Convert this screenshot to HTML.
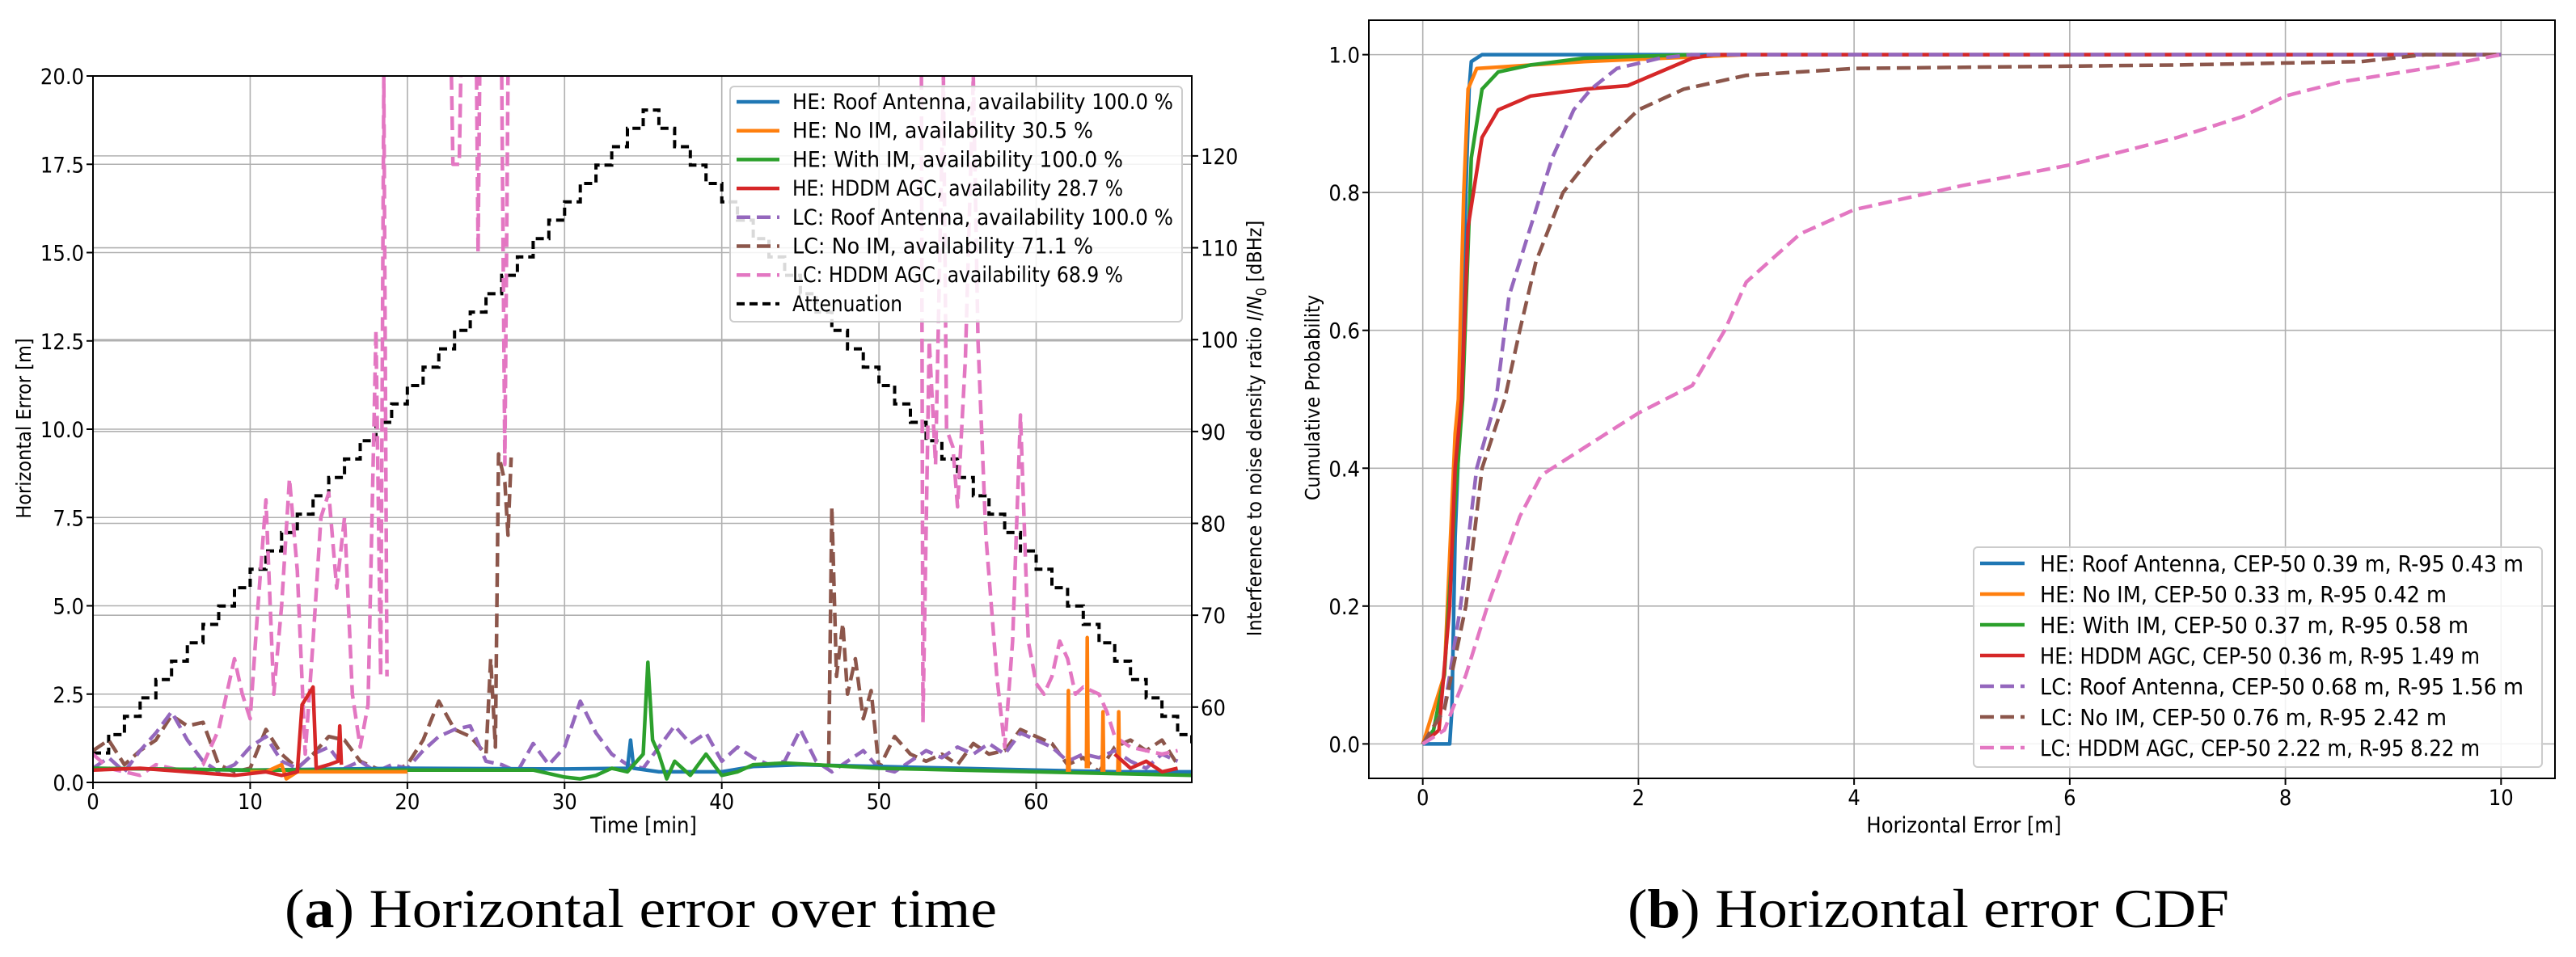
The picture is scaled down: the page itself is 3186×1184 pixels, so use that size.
<!DOCTYPE html>
<html><head><meta charset="utf-8"><style>
html,body{margin:0;padding:0;background:#fff}
svg{display:block}
text{font-family:"DejaVu Sans Condensed","Liberation Sans",sans-serif}
</style></head><body>
<svg id="fig" width="3186" height="1184" viewBox="0 0 3186 1184" xmlns="http://www.w3.org/2000/svg">
<g id="plotA"></g>
<g id="plotB"></g>
<text x="352" y="1147" textLength="881" lengthAdjust="spacingAndGlyphs" style="font-family:'Liberation Serif',serif;font-size:68px">(<tspan font-weight="bold">a</tspan>) Horizontal error over time</text>
<text x="2013" y="1147" textLength="744" lengthAdjust="spacingAndGlyphs" style="font-family:'Liberation Serif',serif;font-size:68px">(<tspan font-weight="bold">b</tspan>) Horizontal error CDF</text>
</svg>
<script>
// ---------- Chart A data ----------
const heRoofT=[0,10,20,30,34,34.2,34.4,36,40,42,45,50,55,60,65,69.9];
const heRoofV=[0.4,0.35,0.4,0.38,0.4,1.2,0.4,0.3,0.3,0.45,0.5,0.45,0.4,0.35,0.3,0.3];
const heNoImT=[10,11,12,12.3,13,15,20,null,62,62.05,62.1,null,63.2,63.25,63.3,null,64.2,64.25,64.3,null,65.2,65.25,65.3];
const heNoImV=[0.3,0.3,0.5,0.1,0.3,0.3,0.3,null,0.3,2.6,0.3,null,0.4,4.1,0.4,null,0.3,2.0,0.3,null,0.3,2.0,0.3];
const heWithT=[0,10,20,28,30,31,32,33,34,35,35.3,35.6,36,36.5,37,38,39,40,41,42,44,46,50,55,60,65,69.9];
const heWithV=[0.4,0.35,0.35,0.35,0.15,0.1,0.2,0.4,0.3,0.8,3.4,1.2,0.8,0.1,0.6,0.2,0.8,0.2,0.3,0.5,0.55,0.5,0.4,0.35,0.3,0.25,0.2];
const heAgcT=[0,3,6,9,11,12,13,13.3,14,14.2,15,15.6,15.7,15.8,null,65,66,67,68,69];
const heAgcV=[0.35,0.4,0.3,0.2,0.3,0.2,0.3,2.2,2.7,0.4,0.5,0.6,1.6,0.5,null,0.8,0.4,0.6,0.3,0.4];
const lcRoofT=[0,1,2,3,4,5,6,7,8,9,10,11,12,13,14,15,16,17,18,19,20,21,22,23,24,25,26,27,28,29,30,31,32,33,34,35,36,37,38,39,40,41,42,43,44,45,46,47,48,49,50,51,52,53,54,55,56,57,58,59,60,61,62,63,64,65,66,67,68,69];
const lcRoofV=[0.4,0.7,0.3,0.9,1.4,2.0,1.2,0.6,0.3,0.5,1.0,1.3,0.6,0.4,0.8,1.0,0.4,0.6,0.3,0.5,0.4,0.9,1.3,1.5,1.6,0.6,0.5,0.3,1.1,0.5,1.0,2.3,1.4,0.8,0.5,0.4,1.0,1.6,1.1,1.4,0.6,1.0,0.7,0.5,0.6,1.5,0.6,0.3,0.6,0.9,0.4,0.3,0.6,0.9,0.7,1.0,0.8,1.1,0.8,1.4,1.2,1.0,0.6,0.8,0.7,0.9,0.6,0.4,0.8,0.6];
const lcNoImT=[0,1,2,3,4,5,6,7,8,9,10,11,12,13,14,15,16,17,18,19,20,21,22,23,24,25,25.3,25.6,25.8,26.2,26.4,26.6,null,46.8,47,47.3,47.7,48,48.5,49,49.5,50,51,52,53,54,55,56,57,58,59,60,61,62,63,64,65,66,67,68,69];
const lcNoImV=[0.9,1.2,0.5,0.9,1.2,1.9,1.6,1.7,0.5,0.3,0.4,1.5,0.8,0.4,0.8,1.3,1.2,0.6,0.4,0.3,0.5,1.2,2.3,1.5,1.3,0.8,3.5,1.0,9.3,8.5,7.0,9.2,null,0.5,7.8,3.0,4.5,2.5,3.5,1.8,2.6,0.4,1.3,0.8,0.6,0.8,0.5,1.1,0.8,0.9,1.5,1.3,1.1,0.5,0.7,0.3,1.0,1.2,0.9,1.2,0.5];
const lcAgcT=[0,1,2,3,4,5,6,7,8,9,9.5,10,10.5,11,11.5,12,12.5,13,13.5,14,14.5,15,15.5,16,16.5,17,17.5,18,18.3,18.5,18.7,null,22.8,22.9,23.3,23.4,null,24.4,24.5,24.6,null,26,26.2,26.4,null,52.7,52.8,53.2,53.6,54.1,54.3,54.7,55,55.5,56,56.3,56.8,57.5,58,58.5,59,59.5,60,60.5,61,61.5,62,62.5,63,63.5,64,64.5,65,66,67,68,69];
const lcAgcV=[0.8,0.4,0.3,0.2,0.5,0.4,0.3,0.5,1.5,3.5,2.5,1.8,5,8,2.5,5,8.6,6,0.8,4,7.5,8.2,5.5,7.5,2.5,1.0,2.2,12.8,3,20,3,null,20,17.5,17.5,20,null,20,15,20,null,20,9,20,null,20,1.7,12.5,9,20,10,9.5,7.8,12,20,12.5,7,3,1,4,10.4,4,2.8,2.5,3,4,3.5,2.5,2.7,2.6,2.5,2.0,1.3,1.0,0.9,0.8,0.9];
const attenT=[0,1,2,3,4,5,6,7,8,9,10,11,12,13,14,15,16,17,18,19,20,21,22,23,24,25,26,27,28,29,30,31,32,33,34,35,36,37,38,39,40,41,42,43,44,45,46,47,48,49,50,51,52,53,54,55,56,57,58,59,60,61,62,63,64,65,66,67,68,69,69.9];
const attenV=[55,57,59,61,63,65,67,69,71,73,75,77,79,81,83,85,87,89,91,93,95,97,99,101,103,105,107,109,111,113,115,117,119,121,123,125,123,121,119,117,115,113,111,109,107,105,103,101,99,97,95,93,91,89,87,85,83,81,79,77,75,73,71,69,67,65,63,61,59,57,56];
const xTicksA=[0,10,20,30,40,50,60];
const yTicksA=[0,2.5,5,7.5,10,12.5,15,17.5,20];
const yTicksA2=[60,70,80,90,100,110,120];
const legendA=["HE: Roof Antenna, availability 100.0 %","HE: No IM, availability 30.5 %","HE: With IM, availability 100.0 %","HE: HDDM AGC, availability 28.7 %","LC: Roof Antenna, availability 100.0 %","LC: No IM, availability 71.1 %","LC: HDDM AGC, availability 68.9 %","Attenuation"];
// ---------- Chart B data ----------
const cdfBlueX=[0,0.25,0.27,0.3,0.35,0.4,0.43,0.45,0.55,10];
const cdfBlueY=[0,0,0.05,0.3,0.5,0.8,0.95,0.99,1,1];
const cdfOrangeX=[0,0.2,0.3,0.33,0.38,0.42,0.5,1.5,3];
const cdfOrangeY=[0,0.1,0.45,0.5,0.8,0.95,0.98,0.99,1];
const cdfGreenX=[0,0.1,0.2,0.3,0.37,0.45,0.55,0.7,1,1.5,2.5];
const cdfGreenY=[0,0.02,0.1,0.35,0.5,0.85,0.95,0.975,0.985,0.995,1];
const cdfRedX=[0,0.15,0.25,0.3,0.36,0.42,0.55,0.7,1,1.5,1.9,2.2,2.5,2.7,10];
const cdfRedY=[0,0.02,0.2,0.4,0.5,0.75,0.88,0.92,0.94,0.95,0.955,0.975,0.995,1,1];
const cdfPurpleX=[0,0.2,0.35,0.5,0.68,0.8,1,1.2,1.4,1.56,1.8,2.2,2.5,10];
const cdfPurpleY=[0,0.05,0.2,0.4,0.5,0.65,0.75,0.85,0.92,0.95,0.98,0.995,1,1];
const cdfBrownX=[0,0.2,0.4,0.55,0.76,0.9,1.05,1.3,1.6,2.0,2.42,3,4,7,8.7,9.3,10];
const cdfBrownY=[0,0.05,0.2,0.4,0.5,0.6,0.7,0.8,0.86,0.92,0.95,0.97,0.98,0.985,0.99,1,1];
const cdfPinkX=[0,0.2,0.4,0.6,0.9,1.1,1.5,2,2.5,2.8,3,3.5,4,5,6,7,7.6,8,8.5,9.5,10];
const cdfPinkY=[0,0.02,0.1,0.2,0.33,0.39,0.43,0.48,0.52,0.6,0.67,0.74,0.775,0.81,0.84,0.88,0.91,0.94,0.96,0.985,1];
const xTicksB=[0,2,4,6,8,10];
const yTicksB=[0,0.2,0.4,0.6,0.8,1.0];
const legendB=["HE: Roof Antenna, CEP-50 0.39 m, R-95 0.43 m","HE: No IM, CEP-50 0.33 m, R-95 0.42 m","HE: With IM, CEP-50 0.37 m, R-95 0.58 m","HE: HDDM AGC, CEP-50 0.36 m, R-95 1.49 m","LC: Roof Antenna, CEP-50 0.68 m, R-95 1.56 m","LC: No IM, CEP-50 0.76 m, R-95 2.42 m","LC: HDDM AGC, CEP-50 2.22 m, R-95 8.22 m"];

const NS="http://www.w3.org/2000/svg";
const COLORS=["#1f77b4","#ff7f0e","#2ca02c","#d62728","#9467bd","#8c564b","#e377c2","#000000"];
const DASHED=[false,false,false,false,true,true,true,true];
function mk(tag,attrs,parent){const e=document.createElementNS(NS,tag);for(const k in attrs)e.setAttribute(k,attrs[k]);parent.appendChild(e);return e;}
function pathFrom(xs,ys,sx,sy,step){let d="",pen=false;for(let i=0;i<xs.length;i++){if(xs[i]===null||ys[i]===null){pen=false;continue;}const X=sx(xs[i]),Y=sy(ys[i]);if(!pen){d+="M"+X.toFixed(1)+" "+Y.toFixed(1);pen=true;}else{if(step)d+="H"+X.toFixed(1);d+="L"+X.toFixed(1)+" "+Y.toFixed(1);}}return d;}

// ---------- Chart A ----------
(function(){
const g=document.getElementById('plotA');
const L=115,R=1474,T=94,B=968;
const sx=t=>L+(t-0)/(69.9-0)*(R-L);
const sy=v=>B-(v-0)/20*(B-T);
const sy2=v=>B-(v-51.8)/(128.7-51.8)*(B-T);
const clip=mk('clipPath',{id:'clipA'},g);mk('rect',{x:L,y:T,width:R-L,height:B-T},clip);
xTicksA.forEach(t=>{const l=mk('line',{x1:sx(t),x2:sx(t),y1:T,y2:B,stroke:'#b0b0b0','stroke-width':1.6},g);


mk('line',{x1:sx(t),x2:sx(t),y1:B,y2:B+8,stroke:'#000','stroke-width':2},g);
const tx=mk('text',{x:sx(t),y:B+33,'text-anchor':'middle','font-size':27},g);tx.textContent=t;

});
yTicksA.forEach(v=>{const l=mk('line',{x1:L,x2:R,y1:sy(v),y2:sy(v),stroke:'#b0b0b0','stroke-width':1.6},g);


mk('line',{x1:L-8,x2:L,y1:sy(v),y2:sy(v),stroke:'#000','stroke-width':2},g);
const tx=mk('text',{x:L-11,y:sy(v)+10,'text-anchor':'end','font-size':27},g);tx.textContent=v.toFixed(1);

});
yTicksA2.forEach(v=>{const l=mk('line',{x1:L,x2:R,y1:sy2(v),y2:sy2(v),stroke:'#b0b0b0','stroke-width':1.6},g);


mk('line',{x1:R,x2:R+8,y1:sy2(v),y2:sy2(v),stroke:'#000','stroke-width':2},g);
const tx=mk('text',{x:R+11,y:sy2(v)+10,'text-anchor':'start','font-size':27},g);tx.textContent=v;

});
const series=[[heRoofT,heRoofV],[heNoImT,heNoImV],[heWithT,heWithV],[heAgcT,heAgcV],[lcRoofT,lcRoofV],[lcNoImT,lcNoImV],[lcAgcT,lcAgcV]];
const names=['he-roof-antenna-line','he-no-im-line','he-with-im-line','he-hddm-agc-line','lc-roof-antenna-line','lc-no-im-line','lc-hddm-agc-line'];
const order=[5,4,6,0,2,1,3];
const att=mk('path',{d:pathFrom(attenT,attenV,sx,sy2,true),fill:'none',stroke:'#000','stroke-width':4,'stroke-dasharray':'10 6','clip-path':'url(#clipA)'},g);


order.forEach(i=>{const s=series[i];const p=mk('path',{d:pathFrom(s[0],s[1],sx,sy,false),fill:'none',stroke:COLORS[i],'stroke-width':4.5,'stroke-linejoin':'round','clip-path':'url(#clipA)'},g);
if(DASHED[i])p.setAttribute('stroke-dasharray','17 8');

});
const fr=mk('rect',{x:L,y:T,width:R-L,height:B-T,fill:'none',stroke:'#000','stroke-width':2},g);


const lg=mk('g',{},g);


mk('rect',{x:903,y:107,width:559,height:291,rx:5,fill:'#fff','fill-opacity':0.85,stroke:'#ccc','stroke-width':2},lg);
legendA.forEach((s,i)=>{const y=126+i*35.7;
const ln=mk('line',{x1:911,x2:964,y1:y,y2:y,stroke:COLORS[i],'stroke-width':i==7?4:4.5},lg);
if(DASHED[i])ln.setAttribute('stroke-dasharray',i==7?'10 6':'17 8');
const tx=mk('text',{x:980,y:y+9,'font-size':27,textLength:(s.length*12.4).toFixed(0),lengthAdjust:'spacingAndGlyphs'},lg);tx.textContent=s;

});
const xl=mk('text',{x:796,y:1030,'text-anchor':'middle','font-size':27},g);xl.textContent='Time [min]';


const yl=mk('text',{x:0,y:0,'text-anchor':'middle','font-size':25,transform:'translate(38,530) rotate(-90)','font-family':'DejaVu Sans, sans-serif'},g);yl.textContent='Horizontal Error [m]';


const y2=mk('text',{x:0,y:0,'text-anchor':'middle','font-size':25,transform:'translate(1560,530) rotate(-90)','font-family':'DejaVu Sans, sans-serif'},g);
y2.innerHTML='Interference to noise density ratio <tspan font-style="italic">I</tspan>/<tspan font-style="italic">N</tspan><tspan font-size="18" dy="6">0</tspan><tspan dy="-6"> [dBHz]</tspan>';


})();

// ---------- Chart B ----------
(function(){
const g=document.getElementById('plotB');
const L=1693,R=3160,T=25,B=963;
const sx=x=>L+(x+0.5)/11*(R-L);
const sy=y=>B-(y+0.05)/1.1*(B-T);
xTicksB.forEach(t=>{const l=mk('line',{x1:sx(t),x2:sx(t),y1:T,y2:B,stroke:'#b0b0b0','stroke-width':1.6},g);


mk('line',{x1:sx(t),x2:sx(t),y1:B,y2:B+8,stroke:'#000','stroke-width':2},g);
const tx=mk('text',{x:sx(t),y:B+33,'text-anchor':'middle','font-size':27},g);tx.textContent=t;

});
yTicksB.forEach(v=>{const l=mk('line',{x1:L,x2:R,y1:sy(v),y2:sy(v),stroke:'#b0b0b0','stroke-width':1.6},g);


mk('line',{x1:L-8,x2:L,y1:sy(v),y2:sy(v),stroke:'#000','stroke-width':2},g);
const tx=mk('text',{x:L-11,y:sy(v)+10,'text-anchor':'end','font-size':27},g);tx.textContent=v.toFixed(1);

});
const series=[[cdfBlueX,cdfBlueY],[cdfOrangeX,cdfOrangeY],[cdfGreenX,cdfGreenY],[cdfRedX,cdfRedY],[cdfPurpleX,cdfPurpleY],[cdfBrownX,cdfBrownY],[cdfPinkX,cdfPinkY]];
const names=['cdf-he-roof-antenna','cdf-he-no-im','cdf-he-with-im','cdf-he-hddm-agc','cdf-lc-roof-antenna','cdf-lc-no-im','cdf-lc-hddm-agc'];
series.forEach((s,i)=>{const p=mk('path',{d:pathFrom(s[0],s[1],sx,sy,false),fill:'none',stroke:COLORS[i],'stroke-width':4.5,'stroke-linejoin':'round'},g);
if(DASHED[i])p.setAttribute('stroke-dasharray','17 8');

});
const fr=mk('rect',{x:L,y:T,width:R-L,height:B-T,fill:'none',stroke:'#000','stroke-width':2},g);


const lg=mk('g',{},g);


mk('rect',{x:2441,y:677,width:703,height:272,rx:5,fill:'#fff','fill-opacity':0.85,stroke:'#ccc','stroke-width':2},lg);
legendB.forEach((s,i)=>{const y=697+i*38;
const ln=mk('line',{x1:2449,x2:2504,y1:y,y2:y,stroke:COLORS[i],'stroke-width':4.5},lg);
if(DASHED[i])ln.setAttribute('stroke-dasharray','17 8');
const tx=mk('text',{x:2523,y:y+10,'font-size':28,textLength:(s.length*13.6).toFixed(0),lengthAdjust:'spacingAndGlyphs'},lg);tx.textContent=s;

});
const xl=mk('text',{x:2429,y:1030,'text-anchor':'middle','font-size':27},g);xl.textContent='Horizontal Error [m]';


const yl=mk('text',{x:0,y:0,'text-anchor':'middle','font-size':25,transform:'translate(1632,492) rotate(-90)','font-family':'DejaVu Sans, sans-serif'},g);yl.textContent='Cumulative Probability';


})();
</script>
</body></html>
